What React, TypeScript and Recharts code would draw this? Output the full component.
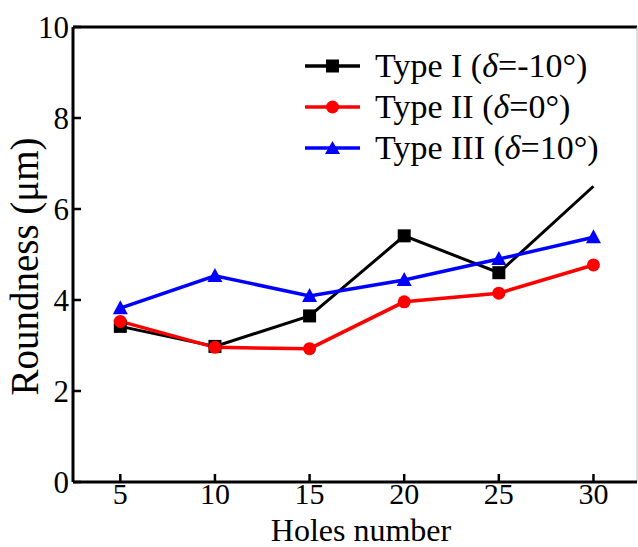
import { LineChart, Line, XAxis, YAxis, Legend, ReferenceLine, Label } from "recharts";

const holes = [5, 10, 15, 20, 25, 30];
const typeI = [3.42, 2.98, 3.65, 5.41, 4.6, 6.5];
const typeII = [3.53, 2.96, 2.93, 3.96, 4.15, 4.77];
const typeIII = [3.82, 4.53, 4.09, 4.44, 4.9, 5.38];
const yTicks = [0, 2, 4, 6, 8, 10];

const data = holes.map((h, i) => ({ holes: h, t1: typeI[i], t2: typeII[i], t3: typeIII[i] }));

const FONT = "'Liberation Serif', 'Times New Roman', serif";

// last point of Type I has no marker in the original
const SquareDot = (p: any) => {
  const { cx, cy, index } = p;
  if (index === holes.length - 1) return <g key={`s${index}`} />;
  return <rect key={`s${index}`} x={cx - 6.5} y={cy - 6.5} width={13} height={13} fill="#000" />;
};
const CircleDot = (p: any) => <circle key={`c${p.index}`} cx={p.cx} cy={p.cy} r={6.5} fill="#ff0000" />;
const TriDot = (p: any) => {
  const { cx, cy } = p;
  return <polygon key={`t${p.index}`} points={`${cx},${cy - 8} ${cx - 7.5},${cy + 6} ${cx + 7.5},${cy + 6}`} fill="#0000ff" />;
};

const legendItems = [
  { color: "#000", shape: "square", pre: "Type I (", post: "=-10°)" },
  { color: "#ff0000", shape: "circle", pre: "Type II (", post: "=0°)" },
  { color: "#0000ff", shape: "tri", pre: "Type III (", post: "=10°)" },
];

function LegendBox() {
  return (
    <div style={{ fontFamily: FONT, fontSize: 34, lineHeight: "41px", color: "#000" }}>
      {legendItems.map((it) => (
        <div key={it.pre} style={{ display: "flex", alignItems: "center", whiteSpace: "nowrap" }}>
          <svg width={70} height={20}>
            <line x1={0} x2={55} y1={10} y2={10} stroke={it.color} strokeWidth={3.5} />
            {it.shape === "square" && <rect x={21} y={3.5} width={13} height={13} fill={it.color} />}
            {it.shape === "circle" && <circle cx={27.5} cy={10} r={6.5} fill={it.color} />}
            {it.shape === "tri" && <polygon points="27.5,3 20,16 35,16" fill={it.color} />}
          </svg>
          <span>
            {it.pre}
            <i>δ</i>
            {it.post}
          </span>
        </div>
      ))}
    </div>
  );
}

const YTitle = (props: any) => {
  const vb = props.viewBox || {};
  const cy = (vb.y ?? 27) + (vb.height ?? 455) / 2 + 12;
  return (
    <text x={24} y={cy} transform={`rotate(-90 24 ${cy})`} textAnchor="middle" dominantBaseline="central"
      fontFamily={FONT} fontSize={39} fill="#000">
      Roundness (μm)
    </text>
  );
};

export default function App() {
  return (
    <div style={{ position: "absolute", left: 0, top: 0, background: "#fff" }}>
      <LineChart width={640} height={547} data={data} margin={{ top: 27, right: 3, bottom: 0, left: 0 }}>
        <XAxis
          dataKey="holes"
          type="number"
          domain={[2.5, 32.3]}
          ticks={holes}
          allowDataOverflow
          height={65}
          axisLine={{ stroke: "#000", strokeWidth: 3 }}
          tickLine={{ stroke: "#000", strokeWidth: 2.5 }}
          tickSize={-8}
          tickMargin={9}
          tick={{ fill: "#000", fontFamily: FONT, fontSize: 30 }}
        >
          <Label value="Holes number" position="insideBottom" offset={6} dx={6} fill="#000" fontFamily={FONT} fontSize={32} />
        </XAxis>
        <YAxis
          type="number"
          domain={[0, 10]}
          ticks={yTicks}
          width={73}
          axisLine={{ stroke: "#000", strokeWidth: 3 }}
          tickLine={{ stroke: "#000", strokeWidth: 2.5 }}
          tickSize={-8}
          tickMargin={12}
          tick={{ fill: "#000", fontFamily: FONT, fontSize: 31 }}
        >
          <Label content={YTitle} />
        </YAxis>
        <ReferenceLine y={10} stroke="#000" strokeWidth={3} />
        <ReferenceLine x={32.3} stroke="#bbb" strokeWidth={1} />
        <Legend
          layout="vertical"
          verticalAlign="middle"
          align="center"
          content={() => <LegendBox />}
          wrapperStyle={{ position: "absolute", left: 305, top: 45, width: 330 }}
        />
        <Line dataKey="t1" stroke="#000" strokeWidth={3} dot={SquareDot} isAnimationActive={false} />
        <Line dataKey="t2" stroke="#ff0000" strokeWidth={3.5} dot={CircleDot} isAnimationActive={false} />
        <Line dataKey="t3" stroke="#0000ff" strokeWidth={3.5} dot={TriDot} isAnimationActive={false} />
      </LineChart>
    </div>
  );
}
